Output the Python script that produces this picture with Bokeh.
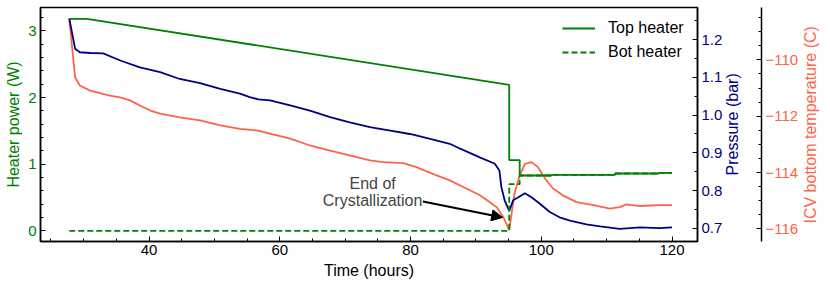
import math
from bokeh.plotting import figure
from bokeh.models import (Range1d, LinearAxis, SingleIntervalTicker, FixedTicker,
                          PrintfTickFormatter, CustomJSTickFormatter, Legend, LegendItem,
                          Arrow, NormalHead, Label, Title)
from bokeh.embed import file_html
from bokeh.resources import INLINE

# ---------------- data ----------------
top_time = [27.8, 30.5, 95.1, 95.1, 96.7, 96.7, 101.6, 101.6, 111.3, 111.3, 118.0, 118.0, 120.0]
top_power = [3.18, 3.18, 2.19, 1.06, 1.06, 0.83, 0.83, 0.84, 0.84, 0.86, 0.86, 0.87, 0.87]

bot_time = [27.8, 95.1, 95.1, 96.7, 96.7, 101.6, 101.6, 111.3, 111.3, 118.0, 118.0, 120.0]
bot_power = [0.0, 0.0, 0.70, 0.70, 0.83, 0.83, 0.84, 0.84, 0.86, 0.86, 0.87, 0.87]

p_time = [27.8, 28.7, 29.4, 31.0, 33.0, 35.6, 38.6, 41.7, 44.7, 47.8, 50.9, 53.9, 55.4, 56.7,
          58.5, 61.6, 64.6, 67.7, 70.7, 73.8, 76.9, 79.9, 83.0, 86.0, 87.6, 88.8, 90.6, 92.9,
          93.6, 93.9, 94.4, 95.1, 95.7, 96.5, 97.5, 98.5, 99.8, 101.3, 102.8, 104.4, 106.9,
          109.0, 112.0, 115.1, 118.1, 120.0]
pressure = [1.257, 1.176, 1.167, 1.165, 1.164, 1.145, 1.127, 1.114, 1.096, 1.085, 1.070, 1.057,
            1.048, 1.042, 1.039, 1.026, 1.012, 0.995, 0.981, 0.968, 0.959, 0.950, 0.937, 0.924,
            0.911, 0.902, 0.888, 0.871, 0.853, 0.809, 0.774, 0.746, 0.774, 0.782, 0.793, 0.782,
            0.765, 0.743, 0.729, 0.720, 0.710, 0.705, 0.698, 0.702, 0.700, 0.702]

t_time = [27.8, 28.7, 29.4, 31.0, 32.5, 34.0, 35.6, 37.1, 38.6, 40.2, 41.7, 44.7, 47.8, 50.9,
          53.9, 56.7, 58.5, 61.6, 64.6, 67.7, 70.7, 73.8, 75.8, 78.9, 80.9, 84.0, 86.0, 87.6,
          89.1, 90.6, 92.1, 93.2, 94.2, 95.1, 95.9, 96.7, 97.5, 98.5, 99.5, 100.6, 101.8,
          103.3, 105.4, 108.0, 110.5, 112.0, 113.0, 115.1, 118.1, 120.0]
temperature = [-108.54, -110.62, -110.91, -111.09, -111.18, -111.27, -111.33, -111.44, -111.62,
               -111.80, -111.91, -112.04, -112.15, -112.33, -112.45, -112.51, -112.62, -112.80,
               -113.04, -113.22, -113.39, -113.57, -113.63, -113.67, -113.81, -114.10, -114.28,
               -114.46, -114.63, -114.81, -115.05, -115.23, -115.58, -116.05, -114.75, -114.10,
               -113.69, -113.63, -113.81, -114.22, -114.57, -114.81, -115.05, -115.16, -115.28,
               -115.23, -115.13, -115.19, -115.16, -115.16]

legend_labels = ["Top heater", "Bot heater"]
annotation_lines = ["End of", "Crystallization"]
axis_titles = ["Time (hours)", "Heater power (W)", "Pressure (bar)", "ICV bottom temperature (C)"]

# ---------------- style ----------------
FONT = "Liberation Sans"
GREEN = "#008000"
NAVY = "#000080"
TOMATO = "#ff6347"
TICK_FS = "15px"
LABEL_FS = "16px"

p = figure(width=830, height=287, output_backend="svg", toolbar_location=None,
           x_range=Range1d(23.4, 123.9), y_range=Range1d(-0.16, 3.35),
           min_border_left=40, min_border_right=132, min_border_top=7, min_border_bottom=46,
           background_fill_color="white", border_fill_color="white")
p.xgrid.visible = False
p.ygrid.visible = False
p.outline_line_color = "black"
p.outline_line_width = 1.5

p.extra_y_ranges = {"p": Range1d(0.6647, 1.2857), "t": Range1d(-116.45, -108.14)}


def style_axis(ax, color, interval, minor, label):
    ax.ticker = SingleIntervalTicker(interval=interval, num_minor_ticks=minor)
    ax.axis_label = label
    ax.axis_label_text_font = FONT
    ax.axis_label_text_font_size = LABEL_FS
    ax.axis_label_text_font_style = "normal"
    ax.axis_label_text_color = color
    ax.axis_label_standoff = 3
    ax.major_label_text_font = FONT
    ax.major_label_text_font_size = TICK_FS
    ax.major_label_text_color = color
    ax.major_label_standoff = 4
    ax.axis_line_color = "black"
    ax.axis_line_width = 1.5
    ax.major_tick_line_color = "black"
    ax.minor_tick_line_color = "black"
    ax.major_tick_in = 5
    ax.major_tick_out = 0
    ax.minor_tick_in = 3
    ax.minor_tick_out = 0


def title_axis(text, color, start_value, standoff):
    """A bare axis whose single rotated tick label acts as a bottom-to-top axis title.
    start_value (heater-power units) is where the title text starts."""
    ax = LinearAxis(ticker=FixedTicker(ticks=[start_value], minor_ticks=[]),
                    major_label_overrides={start_value: text},
                    major_label_orientation=math.pi / 2,
                    major_label_standoff=standoff,
                    major_label_text_font=FONT, major_label_text_font_size=LABEL_FS,
                    major_label_text_color=color,
                    axis_line_color=None, major_tick_line_color=None,
                    minor_tick_line_color=None, major_tick_in=0, major_tick_out=0)
    return ax


style_axis(p.xaxis[0], "black", 20, 4, axis_titles[0])
p.xaxis[0].major_label_standoff = 3
p.xaxis[0].axis_label_standoff = 4
style_axis(p.yaxis[0], GREEN, 1, 5, axis_titles[1])

ax_p = LinearAxis(y_range_name="p")
style_axis(ax_p, NAVY, 0.1, 2, None)
ax_p.formatter = PrintfTickFormatter(format="%.1f")
p.add_layout(ax_p, "right")
p.add_layout(title_axis(axis_titles[2], NAVY, 0.83, 7), "right")

p.add_layout(Title(text=" ", text_font_size="7px", text_font=FONT, standoff=0, offset=0), "right")

ax_t = LinearAxis(y_range_name="t")
style_axis(ax_t, TOMATO, 2, 4, None)
ax_t.formatter = CustomJSTickFormatter(code="return tick.toFixed(0).replace('-', '\u2212');")
p.add_layout(ax_t, "right")
p.add_layout(title_axis(axis_titles[3], TOMATO, 0.11, 9), "right")

# ---------------- glyphs ----------------
p.line(t_time, temperature, y_range_name="t", line_color=TOMATO, line_width=1.8)
p.line(p_time, pressure, y_range_name="p", line_color=NAVY, line_width=1.8)
r_bot = p.line(bot_time, bot_power, line_color=GREEN, line_width=1.8, line_dash="6 3")
r_top = p.line(top_time, top_power, line_color=GREEN, line_width=1.8)

legend = Legend(items=[LegendItem(label=legend_labels[0], renderers=[r_top]),
                       LegendItem(label=legend_labels[1], renderers=[r_bot])],
                location=(522, 179), border_line_color=None, background_fill_alpha=0,
                label_text_font=FONT, label_text_font_size=LABEL_FS, label_text_color="black",
                glyph_width=33, glyph_height=20, label_standoff=13, spacing=4,
                padding=0, margin=0)
p.add_layout(legend)

p.add_layout(Arrow(end=NormalHead(size=11, fill_color="black", line_color="black"),
                   x_start=81.9, y_start=0.44, x_end=94.1, y_end=0.20,
                   line_color="black", line_width=2))
p.add_layout(Label(x=74.2, y=0.71, text=annotation_lines[0], text_align="center",
                   text_baseline="middle", text_font=FONT, text_font_size=LABEL_FS))
p.add_layout(Label(x=74.2, y=0.455, text=annotation_lines[1], text_align="center",
                   text_baseline="middle", text_font=FONT, text_font_size=LABEL_FS))

open("out.html", "w").write(file_html(p, INLINE))
